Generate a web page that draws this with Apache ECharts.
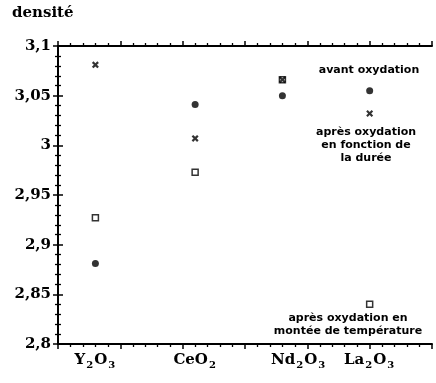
<!DOCTYPE html>
<html>
<head>
<meta charset="utf-8">
<script src="https://cdn.jsdelivr.net/npm/echarts@6/dist/echarts.min.js"></script>
<style>html,body{margin:0;padding:0;background:#fff;}#c{width:436px;height:383px;}</style>
</head>
<body>
<div id="c"></div>
<script>
// Data
var categories = ['Y2O3', 'CeO2', 'Nd2O3', 'La2O3'];
var categoryX = [3, 11, 18, 25];          // position of each oxide on the horizontal scale
var labelX = [3, 11, 19.3, 25];           // where the oxide names are written
var avantOxydation = [2.881, 3.041, 3.050, 3.055];        // filled dots
var apresDuree = [3.081, 3.007, 3.066, 3.032];            // crosses
var apresTemperature = [2.927, 2.973, 3.066, 2.840];      // hollow squares
var yTicks = [2.8, 2.85, 2.9, 2.95, 3, 3.05, 3.1];

function pts(vals) { return vals.map(function (v, i) { return [categoryX[i], v]; }); }
function richName(n) {
  return n.match(/[A-Za-z]+|\d/g).map(function (t) {
    return /\d/.test(t) ? '{s|' + t + '}' : '{b|' + t + '}';
  }).join('');
}

var serif = '"DejaVu Serif", "Liberation Serif", serif';
var sans = '"DejaVu Sans", "Liberation Sans", Arial, sans-serif';
var crossPath = 'path://M0,2.2L2.2,0L5,2.8L7.8,0L10,2.2L7.2,5L10,7.8L7.8,10L5,7.2L2.2,10L0,7.8L2.8,5Z';

var chart = echarts.init(document.getElementById('c'));
var axisCommon = {
  type: 'value', min: 0, max: 30, interval: 5,
  axisLine: { show: true, lineStyle: { color: '#000', width: 2 } },
  axisTick: { show: true, length: 5, lineStyle: { color: '#000', width: 1.5 } },
  minorTick: { show: true, splitNumber: 5, length: 3, lineStyle: { color: '#000', width: 1.3 } },
  splitLine: { show: false }, minorSplitLine: { show: false }
};
var yCommon = {
  type: 'value', min: 2.8, max: 3.1, interval: 0.05,
  axisLine: { show: true, lineStyle: { color: '#000', width: 2 } },
  axisTick: { show: true, length: 5, lineStyle: { color: '#000', width: 1.5 } },
  minorTick: { show: true, splitNumber: 5, length: 3, lineStyle: { color: '#000', width: 1.3 } },
  splitLine: { show: false }, minorSplitLine: { show: false }
};

chart.setOption({
  animation: false,
  backgroundColor: '#fff',
  grid: { left: 58, right: 4, top: 46, bottom: 39, containLabel: false },
  xAxis: [
    Object.assign({}, axisCommon, {
      position: 'bottom',
      axisLabel: {
        show: true, margin: 7,
        customValues: labelX,
        formatter: function (v) {
          var i = labelX.indexOf(v);
          return i >= 0 ? richName(categories[i]) : '';
        },
        rich: {
          b: { fontFamily: serif, fontWeight: 'bold', fontSize: 15, color: '#000' },
          s: { fontFamily: serif, fontWeight: 'bold', fontSize: 10, color: '#000', padding: [9, 1, 0, 1] }
        }
      }
    }),
    Object.assign({}, axisCommon, { position: 'top', axisLabel: { show: false } })
  ],
  yAxis: [
    Object.assign({}, yCommon, {
      position: 'left',
      axisLabel: {
        show: true, margin: 7,
        fontFamily: serif, fontWeight: 'bold', fontSize: 15, color: '#000',
        formatter: function (v) {
          var r = Math.round(v * 100) / 100;
          return yTicks.indexOf(r) >= 0 ? String(r).replace('.', ',') : '';
        }
      }
    }),
    Object.assign({}, yCommon, { position: 'right', axisLabel: { show: false } })
  ],
  series: [
    { name: 'après oxydation en montée de température', type: 'scatter', data: pts(apresTemperature),
      symbol: 'rect', symbolSize: 6, itemStyle: { color: '#fff', borderColor: '#000', borderWidth: 1.5 } },
    { name: 'avant oxydation', type: 'scatter', data: pts(avantOxydation),
      symbol: 'circle', symbolSize: 7, itemStyle: { color: '#000' } },
    { name: 'après oxydation en fonction de la durée', type: 'scatter', data: pts(apresDuree),
      symbol: crossPath, symbolSize: 7, itemStyle: { color: '#000' } }
  ],
  graphic: [
    { type: 'text', left: 12, top: 6, style: { text: 'densité', font: 'bold 15px ' + serif, fill: '#000' } },
    { type: 'text', x: 369, y: 70, style: { text: 'avant oxydation', font: 'bold 11px ' + sans, fill: '#000', align: 'center', verticalAlign: 'middle' } },
    { type: 'text', x: 366, y: 145, style: { text: 'après oxydation\nen fonction de\nla durée', font: 'bold 11px ' + sans, lineHeight: 13, fill: '#000', align: 'center', verticalAlign: 'middle' } },
    { type: 'text', x: 348, y: 325, style: { text: 'après oxydation en\nmontée de température', font: 'bold 11px ' + sans, lineHeight: 13, fill: '#000', align: 'center', verticalAlign: 'middle' } }
  ]
});
</script>
</body>
</html>
